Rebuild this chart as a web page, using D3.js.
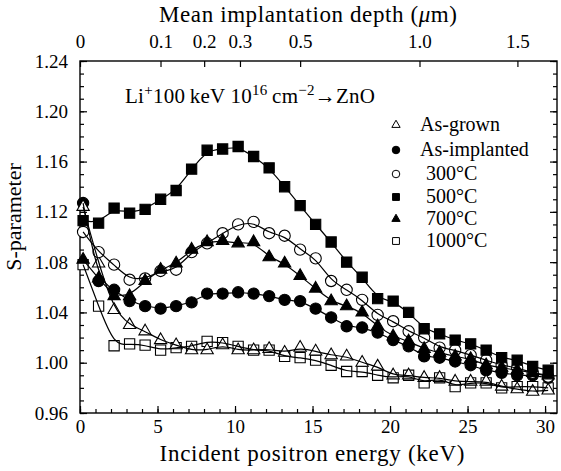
<!DOCTYPE html>
<html>
<head>
<meta charset="utf-8">
<script src="https://cdn.jsdelivr.net/npm/d3@7"></script>
<style>
body { margin: 0; background: #fff; }
text { font-family: "Liberation Serif", "Times New Roman", serif; fill: #000; }
</style>
</head>
<body>
<div id="chart"></div>
<script>
// incident positron energies (keV)
const energy = [0.2, 1.2, 2.2, 3.2, 4.2, 5.2, 6.2, 7.2, 8.2, 9.2, 10.2,
    11.2, 12.2, 13.2, 14.2, 15.2, 16.2, 17.2, 18.2, 19.2, 20.2,
    21.2, 22.2, 23.2, 24.2, 25.2, 26.2, 27.2, 28.2, 29.2, 30.2];

// S-parameter per sample
const asGrown = [1.124, 1.079, 1.042, 1.030, 1.025, 1.018, 1.014, 1.010, 1.010, 1.014, 1.010,
    1.010, 1.011, 1.008, 1.012, 1.009, 1.006, 1.005, 1.000, 0.997, 0.990,
    0.990, 0.988, 0.988, 0.985, 0.985, 0.985, 0.981, 0.979, 0.977, 0.978];
const asImplanted = [1.127, 1.065, 1.058, 1.049, 1.045, 1.043, 1.045, 1.048, 1.055, 1.055, 1.056,
    1.055, 1.053, 1.050, 1.049, 1.043, 1.036, 1.029, 1.028, 1.024, 1.018,
    1.013, 1.005, 1.004, 1.001, 0.998, 0.994, 0.992, 0.990, 0.990, 0.988];
const anneal300 = [1.104, 1.088, 1.078, 1.066, 1.067, 1.073, 1.074, 1.088, 1.095, 1.103, 1.110,
    1.112, 1.103, 1.101, 1.090, 1.083, 1.065, 1.058, 1.050, 1.038, 1.033,
    1.025, 1.020, 1.012, 1.010, 1.006, 1.002, 0.998, 0.996, 0.992, 0.989];
const anneal500 = [1.113, 1.111, 1.123, 1.119, 1.122, 1.130, 1.137, 1.154, 1.169, 1.170, 1.172,
    1.164, 1.155, 1.140, 1.125, 1.110, 1.096, 1.080, 1.068, 1.051, 1.049,
    1.040, 1.027, 1.023, 1.018, 1.015, 1.010, 1.004, 1.002, 0.997, 0.994];
const anneal700 = [1.082, 1.067, 1.053, 1.053, 1.065, 1.074, 1.079, 1.090, 1.096, 1.097, 1.095,
    1.096, 1.084, 1.079, 1.069, 1.059, 1.049, 1.045, 1.040, 1.029, 1.021,
    1.017, 1.011, 1.008, 1.005, 1.003, 0.998, 0.996, 0.994, 0.992, 0.990];
const anneal1000 = [1.078, 1.045, 1.0135, 1.015, 1.014, 1.010, 1.012, 1.013, 1.017, 1.016, 1.013,
    1.010, 1.010, 1.005, 1.004, 1.002, 0.998, 0.993, 0.993, 0.990, 0.988,
    0.990, 0.984, 0.988, 0.981, 0.984, 0.984, 0.980, 0.981, 0.981, 0.980];

// axis ticks
const energyTicks = [0, 5, 10, 15, 20, 25, 30];
const sTicks = [0.96, 1.00, 1.04, 1.08, 1.12, 1.16, 1.20, 1.24];
const depthTicks = [0, 0.1, 0.2, 0.3, 0.5, 1.0, 1.5];
const depthLabels = ['0', '0.1', '0.2', '0.3', '0.5', '1.0', '1.5'];
const energyAt1um = 21.9; // keV giving 1 um mean depth
const depthExponent = 0.625;

// drawing order: later on top
const series = [
    {name: '1000°C', values: anneal1000, shape: d3.symbolSquare, filled: false, legend: 5},
    {name: 'As-implanted', values: asImplanted, shape: d3.symbolCircle, filled: true, legend: 1},
    {name: 'As-grown', values: asGrown, shape: d3.symbolTriangle, filled: false, legend: 0},
    {name: '300°C', values: anneal300, shape: d3.symbolCircle, filled: false, legend: 2},
    {name: '700°C', values: anneal700, shape: d3.symbolTriangle, filled: true, legend: 4},
    {name: '500°C', values: anneal500, shape: d3.symbolSquare, filled: true, legend: 3}
];

drawChart();

function drawChart() {
    const width = 561, height = 471;
    const margin = {top: 61, right: 4, bottom: 58, left: 80};

    const svg = d3.select('#chart')
        .append('svg')
            .attr('width', width)
            .attr('height', height)
            .attr('viewBox', [0, 0, width, height]);

    // scales
    const x = d3.scaleLinear()
        .domain([0, 30.77])
        .range([margin.left, width - margin.right]);
    const y = d3.scaleLinear()
        .domain([0.96, 1.24])
        .range([height - margin.bottom, margin.top]);
    const depth = d3.scalePow()
        .exponent(depthExponent)
        .domain([0, 1])
        .range([x(0), x(energyAt1um)]);

    const symSize = {square: 105, circle: 100, triangle: 66};
    const sizeOf = s => s === d3.symbolSquare ? symSize.square
        : s === d3.symbolCircle ? symSize.circle : symSize.triangle;

    // axes
    const bottom = height - margin.bottom;
    const right = width - margin.right;
    const minorE = d3.range(0, 31);
    const minorS = d3.range(96, 125).map(v => v / 100);

    const strip = g => g.select('.domain').remove();

    svg.append('g')
        .attr('transform', `translate(0,${bottom})`)
        .call(d3.axisBottom(x).tickValues(minorE).tickFormat('').tickSizeInner(-4).tickSizeOuter(0))
        .call(strip);
    svg.append('g')
        .attr('transform', `translate(0,${bottom})`)
        .call(d3.axisBottom(x).tickValues(energyTicks).tickSizeInner(-7).tickSizeOuter(0).tickPadding(7))
        .call(strip)
        .call(g => g.selectAll('.tick text').style('font-size', '19px'));

    svg.append('g')
        .attr('transform', `translate(${margin.left},0)`)
        .call(d3.axisLeft(y).tickValues(minorS).tickFormat('').tickSizeInner(-4).tickSizeOuter(0))
        .call(strip);
    svg.append('g')
        .attr('transform', `translate(${margin.left},0)`)
        .call(d3.axisLeft(y).tickValues(sTicks).tickFormat(d3.format('.2f'))
            .tickSizeInner(-7).tickSizeOuter(0).tickPadding(12))
        .call(strip)
        .call(g => g.selectAll('.tick text').style('font-size', '19px'));

    svg.append('g')
        .attr('transform', `translate(${right},0)`)
        .call(d3.axisRight(y).tickValues(minorS).tickFormat('').tickSizeInner(-4).tickSizeOuter(0))
        .call(strip);
    svg.append('g')
        .attr('transform', `translate(${right},0)`)
        .call(d3.axisRight(y).tickValues(sTicks).tickFormat('').tickSizeInner(-7).tickSizeOuter(0))
        .call(strip);

    svg.append('g')
        .attr('transform', `translate(0,${margin.top})`)
        .call(d3.axisTop(depth).tickValues(depthTicks).tickFormat((d, i) => depthLabels[i])
            .tickSizeInner(-6).tickSizeOuter(0).tickPadding(13))
        .call(strip)
        .call(g => g.selectAll('.tick text').style('font-size', '19px'));

    svg.selectAll('.tick line').attr('stroke', '#000').attr('stroke-width', 1.2);

    // frame
    svg.append('rect')
        .attr('x', margin.left)
        .attr('y', margin.top)
        .attr('width', right - margin.left)
        .attr('height', bottom - margin.top)
        .attr('fill', 'none')
        .attr('stroke', '#000')
        .attr('stroke-width', 1.4);

    // titles
    svg.append('text')
        .attr('x', 312).attr('y', 461)
        .attr('text-anchor', 'middle')
        .attr('textLength', 305).attr('lengthAdjust', 'spacing')
        .style('font-size', '23px')
        .text('Incident positron energy (keV)');
    const top = svg.append('text')
        .attr('x', 308).attr('y', 22)
        .attr('text-anchor', 'middle')
        .attr('textLength', 298).attr('lengthAdjust', 'spacing')
        .style('font-size', '23px');
    top.append('tspan').text('Mean implantation depth (');
    top.append('tspan').style('font-style', 'italic').text('μ');
    top.append('tspan').text('m)');
    svg.append('text')
        .attr('transform', 'translate(21,217) rotate(-90)')
        .attr('text-anchor', 'middle')
        .style('font-size', '22px')
        .text('S-parameter');

    // annotation
    const note = svg.append('text')
        .attr('x', 125).attr('y', 103)
        .attr('textLength', 250).attr('lengthAdjust', 'spacing')
        .style('font-size', '21px');
    note.append('tspan').text('Li');
    note.append('tspan').attr('dy', -8).style('font-size', '15px').text('+');
    note.append('tspan').attr('dy', 8).text('100\u2009keV 10');
    note.append('tspan').attr('dy', -8).style('font-size', '15px').text('16');
    note.append('tspan').attr('dy', 8).text('\u2009cm');
    note.append('tspan').attr('dy', -8).style('font-size', '15px').text('\u22122');
    note.append('tspan').attr('dy', 8).text('\u2192ZnO');

    // data
    const line = d3.line()
        .curve(d3.curveBasis)
        .x((d, i) => x(energy[i]))
        .y(d => y(d));

    const groups = svg.append('g')
        .selectAll('g')
        .data(series)
        .join('g');

    groups.selectAll('path.mark')
        .data(d => d.values.map((v, i) => ({v, i, s: d})))
        .join('path')
            .attr('class', 'mark')
            .attr('transform', d => `translate(${x(energy[d.i])},${y(d.v)})`)
            .attr('d', d => d3.symbol().type(d.s.shape).size(sizeOf(d.s.shape))())
            .attr('fill', d => d.s.filled ? '#000' : '#fff')
            .attr('stroke', '#000')
            .attr('stroke-width', 1.1);

    svg.append('g')
        .selectAll('path')
        .data(series)
        .join('path')
            .attr('fill', 'none')
            .attr('stroke', '#000')
            .attr('stroke-width', 1.2)
            .attr('d', d => line(d.values));

    // legend
    const legendRowY = [125, 150, 174, 197, 219, 241];
    const legend = svg.append('g')
        .selectAll('g')
        .data(series)
        .join('g')
            .attr('transform', d => `translate(396,${legendRowY[d.legend]})`);
    legend.append('path')
        .attr('d', d => d3.symbol().type(d.shape).size(sizeOf(d.shape) * 0.45)())
        .attr('fill', d => d.filled ? '#000' : '#fff')
        .attr('stroke', '#000')
        .attr('stroke-width', 1);
    legend.append('text')
        .attr('x', d => /^\d/.test(d.name) ? 30 : 24)
        .attr('y', 6)
        .style('font-size', '20px')
        .text(d => d.name);
}
</script>
</body>
</html>
